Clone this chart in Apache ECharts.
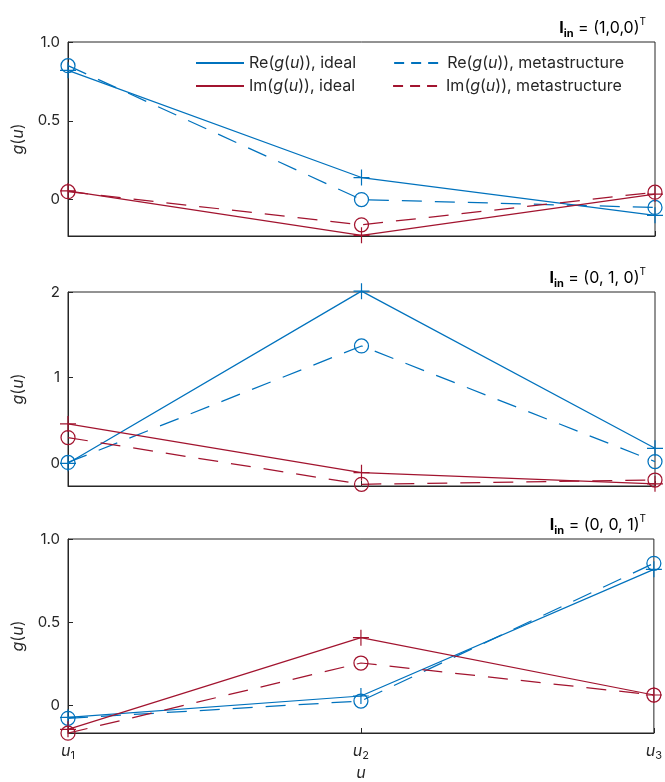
<!DOCTYPE html>
<html>
<head>
<meta charset="utf-8">
<script src="https://cdn.jsdelivr.net/npm/echarts@6/dist/echarts.min.js"></script>
<style>
html,body{margin:0;padding:0;background:#fff;}
#chart{width:665px;height:782px;}
</style>
</head>
<body>
<div id="chart"></div>
<script>
// ---- data ----
const categories = ['u1', 'u2', 'u3'];
const panelTitles = ['(1,0,0)', '(0, 1, 0)', '(0, 0, 1)'];

// Panel 1: I_in = (1,0,0)^T
const reIdeal1 = [0.82, 0.14, -0.10];
const reMeta1  = [0.85, 0.00, -0.05];
const imIdeal1 = [0.055, -0.227, 0.035];
const imMeta1  = [0.05, -0.16, 0.047];

// Panel 2: I_in = (0,1,0)^T
const reIdeal2 = [0.00, 2.01, 0.175];
const reMeta2  = [0.01, 1.37, 0.02];
const imIdeal2 = [0.46, -0.11, -0.24];
const imMeta2  = [0.30, -0.245, -0.195];

// Panel 3: I_in = (0,0,1)^T
const reIdeal3 = [-0.07, 0.058, 0.818];
const reMeta3  = [-0.076, 0.028, 0.854];
const imIdeal3 = [-0.142, 0.408, 0.064];
const imMeta3  = [-0.165, 0.256, 0.064];

// y-axis ranges and ticks
const yMins = [-0.231, -0.265, -0.164];
const yMaxs = [1.0, 2.0, 1.0];
const yTicks = [[0, 0.5, 1.0], [0, 1, 2], [0, 0.5, 1.0]];
const yTickLabels = [['0', '0.5', '1.0'], ['0', '1', '2'], ['0', '0.5', '1.0']];

const seriesNames = ['Re(g(u)), ideal', 'Re(g(u)), metastructure', 'Im(g(u)), ideal', 'Im(g(u)), metastructure'];

// ---- styles ----
const BLUE = '#0072BD';
const RED = '#A2142F';
const TXT = '#262626';
const FONT = 'Inter';
const PLUS = 'path://M-1,-0.075 L1,-0.075 L1,0.075 L-1,0.075 Z M-0.075,-1 L0.075,-1 L0.075,1 L-0.075,1 Z';
const DASH = [20, 13];
const LEGEND_DASH = [10, 7];

const panels = [
  [reIdeal1, reMeta1, imIdeal1, imMeta1],
  [reIdeal2, reMeta2, imIdeal2, imMeta2],
  [reIdeal3, reMeta3, imIdeal3, imMeta3]
];
const gridTops = [42, 292, 539];
const gridH = 194;

const LFS = 16;
const richTxt = {
  i: {fontStyle: 'italic', fontFamily: FONT, fontSize: LFS, color: TXT},
  n: {fontFamily: FONT, fontSize: LFS, color: TXT}
};

function legendLabel(name) {
  const pre = name.slice(0, 2);
  const post = name.split(', ')[1];
  return '{n|' + pre + '(}{i|g}{n|(}{i|u}{n|)), ' + post + '}';
}

const grids = [], xAxes = [], yAxes = [], titles = [], series = [];

panels.forEach((vals, p) => {
  grids.push({left: 68, right: 10, top: gridTops[p], height: gridH, show: true,
    borderColor: TXT, borderWidth: 1, backgroundColor: 'transparent'});
  xAxes.push({
    type: 'category', gridIndex: p, data: categories, boundaryGap: false,
    axisLine: {onZero: false, lineStyle: {color: TXT, width: 1}},
    axisTick: {show: true, inside: true, length: 5, lineStyle: {color: TXT}},
    axisLabel: {show: p === 2, margin: 8,
      formatter: v => '{i|u}{s|' + v.slice(1) + '}',
      rich: {
        i: {fontStyle: 'italic', fontFamily: FONT, fontSize: 16, color: TXT, lineHeight: 20},
        s: {fontFamily: FONT, fontSize: 11, color: TXT, verticalAlign: 'bottom', lineHeight: 12}
      }},
    name: p === 2 ? 'u' : '',
    nameLocation: 'middle', nameGap: 32,
    nameTextStyle: {fontStyle: 'italic', fontFamily: FONT, fontSize: 16, color: TXT},
    splitLine: {show: false}
  });
  yAxes.push({
    type: 'value', gridIndex: p, min: yMins[p], max: yMaxs[p],
    axisLine: {show: true, lineStyle: {color: TXT, width: 1}},
    axisTick: {show: true, inside: true, length: 5, customValues: yTicks[p], lineStyle: {color: TXT}},
    axisLabel: {show: true, margin: 8, customValues: yTicks[p],
      formatter: v => yTickLabels[p][yTicks[p].indexOf(v)] ?? '',
      fontFamily: FONT, fontSize: 15, color: TXT},
    splitLine: {show: false},
    name: '{i|g}{n|(}{i|u}{n|)}',
    nameLocation: 'middle', nameRotate: 90, nameGap: 42,
    nameTextStyle: {rich: {
      i: {fontStyle: 'italic', fontFamily: FONT, fontSize: 16, color: TXT},
      n: {fontFamily: FONT, fontSize: 16, color: TXT}
    }}
  });
  titles.push({
    text: '{b|I}{bs|in}{n| = ' + panelTitles[p] + '}{sp|T}',
    right: 19, top: gridTops[p] - 25, padding: 0,
    textStyle: {fontWeight: 'normal', rich: {
      b: {fontFamily: FONT, fontWeight: 'bold', fontSize: 16, color: '#000', lineHeight: 22},
      bs: {fontFamily: FONT, fontWeight: 'bold', fontSize: 11, color: '#000', verticalAlign: 'bottom', lineHeight: 12},
      n: {fontFamily: FONT, fontWeight: 'normal', fontSize: 16, color: '#000', lineHeight: 22},
      sp: {fontFamily: FONT, fontWeight: 'normal', fontSize: 10, color: '#000', verticalAlign: 'top', lineHeight: 12}
    }}
  });
  vals.forEach((d, k) => {
    const meta = k % 2 === 1;
    const col = k < 2 ? BLUE : RED;
    series.push({
      name: seriesNames[k], type: 'line', xAxisIndex: p, yAxisIndex: p, data: d,
      symbol: meta ? 'circle' : PLUS,
      symbolSize: meta ? 14 : 16,
      showAllSymbol: true,
      clip: false,
      lineStyle: {color: col, width: 1.25, type: meta ? DASH : 'solid'},
      itemStyle: meta ? {color: 'rgba(255,255,255,0)', borderColor: col, borderWidth: 1.25} : {color: col, borderWidth: 0},
      emphasis: {disabled: true},
      silent: true,
      z: 3
    });
  });
});

const legendCommon = {
  orient: 'horizontal', itemWidth: 48, itemHeight: 14, itemGap: 37, itemTextGap: 6,
  formatter: legendLabel, textStyle: {rich: richTxt}, padding: 0, selectedMode: false,
  itemStyle: {opacity: 0}
};

const legendItem = (k) => (k % 2 ? {name: seriesNames[k], lineStyle: {type: LEGEND_DASH}} : {name: seriesNames[k]});

const option = {
  animation: false,
  backgroundColor: '#fff',
  title: titles,
  legend: [
    Object.assign({}, legendCommon, {left: 195, top: 55, data: [legendItem(0), legendItem(1)]}),
    Object.assign({}, legendCommon, {left: 195, top: 78, data: [legendItem(2), legendItem(3)]})
  ],
  grid: grids,
  xAxis: xAxes,
  yAxis: yAxes,
  series: series
};

const chart = echarts.init(document.getElementById('chart'), null, {renderer: 'canvas'});
chart.setOption(option);
</script>
</body>
</html>
